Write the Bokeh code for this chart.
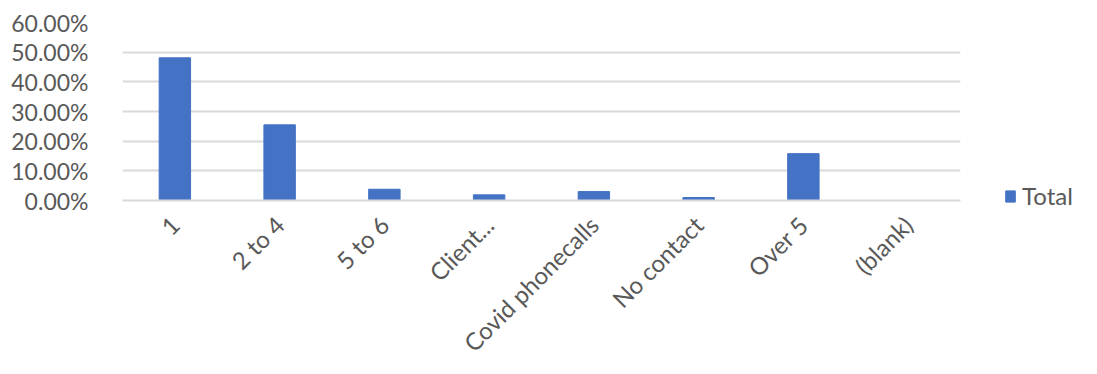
from bokeh.plotting import figure
from bokeh.models import ColumnDataSource, Legend, LegendItem, NumeralTickFormatter, FixedTicker, Range1d
from bokeh.embed import file_html
from bokeh.resources import INLINE
import math

categories = ["1", "2 to 4", "5 to 6", "Client...", "Covid phonecalls", "No contact", "Over 5", "(blank)"]
totals = [0.481, 0.255, 0.038, 0.019, 0.030, 0.010, 0.158, 0.0]
y_ticks = [0.0, 0.1, 0.2, 0.3, 0.4, 0.5, 0.6]

BAR = "#4472c4"
TEXT = "#595959"
GRID = "#d9d9d9"
FONT = "Lato"

src = ColumnDataSource(dict(cat=categories, total=totals))

p = figure(x_range=categories, y_range=Range1d(0, 0.6),
           frame_width=838, frame_height=178,
           output_backend="svg", toolbar_location=None,
           min_border_left=122, min_border_top=22, min_border_right=0, min_border_bottom=174)
p.outline_line_color = None

r = p.vbar(x="cat", top="total", width=0.3, source=src, color=BAR)

p.yaxis.ticker = FixedTicker(ticks=y_ticks)
p.yaxis.formatter = NumeralTickFormatter(format="0.00%")
p.yaxis.axis_line_color = None
p.yaxis.major_tick_line_color = None
p.yaxis.minor_tick_line_color = None
p.yaxis.major_label_text_font = FONT
p.yaxis.major_label_text_font_size = "23px"
p.yaxis.major_label_text_color = TEXT
p.yaxis.major_label_standoff = 28

p.xaxis.axis_line_color = GRID
p.xaxis.axis_line_width = 2
p.xaxis.major_tick_line_color = None
p.xaxis.minor_tick_line_color = None
p.xaxis.major_label_orientation = math.pi / 4
p.xaxis.major_label_text_font = FONT
p.xaxis.major_label_text_font_size = "24px"
p.xaxis.major_label_text_color = TEXT
p.xaxis.major_label_standoff = 14

p.xgrid.grid_line_color = None
p.ygrid.grid_line_color = GRID
p.ygrid.grid_line_width = 2

legend = Legend(items=[LegendItem(label="Total", renderers=[r])],
                location=(44, -10), border_line_color=None,
                label_text_font=FONT, label_text_font_size="24px",
                label_text_color=TEXT, glyph_width=12, glyph_height=14,
                label_standoff=6, padding=0, margin=0)
legend.background_fill_alpha = 0
p.add_layout(legend, "right")

open("out.html", "w").write(file_html(p, INLINE))
